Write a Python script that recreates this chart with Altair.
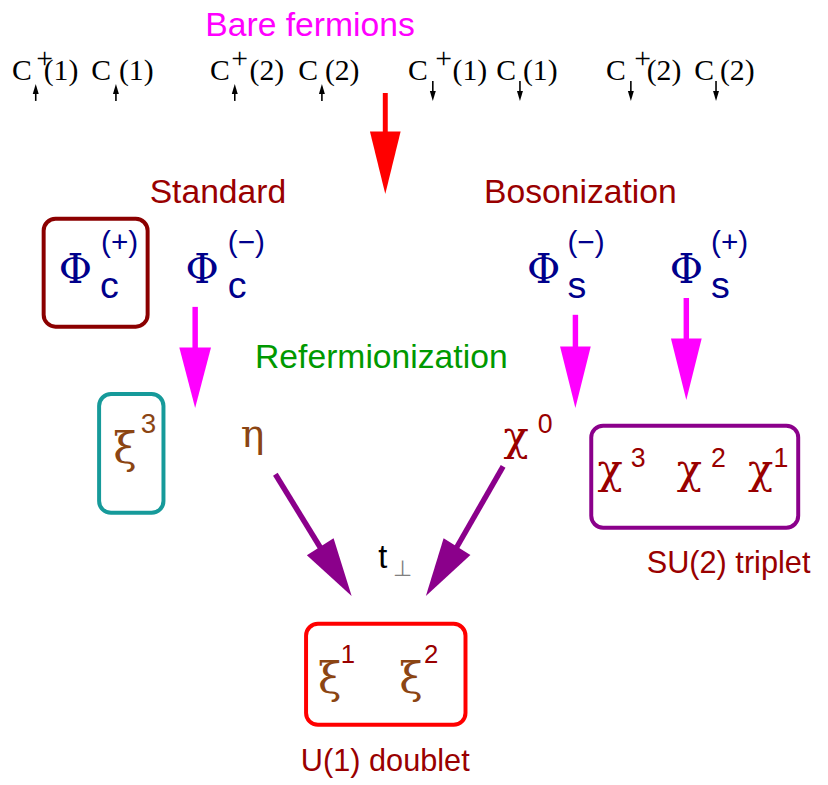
import altair as alt
import pandas as pd

# ---------------- data ----------------
# section labels (sans, centred)
label_text = ["Bare fermions", "Standard", "Bosonization", "Refermionization", "U(1) doublet"]
label_x = [313, 220, 586, 385, 389]
label_y = [22, 191, 191, 358, 766]
label_color = ["#ff00ff", "#990000", "#990000", "#009900", "#990000"]
label_size = [34, 34, 34, 34, 31]

# left aligned label
left_text = ["SU(2) triplet"]
left_x = [653]
left_y = [566]
left_color = ["#990000"]
left_size = [31]

# Phi symbols (serif)
phi_text = ["Φ", "Φ", "Φ", "Φ"]
phi_x = [76, 204, 549, 693]
phi_y = [282, 282, 282, 282]
phi_color = ["#00008b"] * 4
phi_size = [41, 41, 41, 41]

# other Greek symbols (serif)
greek_text = ["ξ", "η", "χ", "χ", "χ", "χ", "ξ", "ξ"]
greek_x = [126, 255, 521, 616, 696, 768, 333, 415]
greek_y = [464, 448, 451, 484, 484, 484, 696, 696]
greek_color = ["#8b4513", "#8b4513"] + ["#990000"] * 4 + ["#8b4513", "#8b4513"]
greek_size = [43, 40, 42, 42, 42, 42, 43, 43]

# sub / superscripts (sans)
script_text = ["(+)", "c", "(−)", "c", "(−)", "s", "(+)", "s",
               "3", "0", "3", "2", "1", "1", "2", "t", "⊥"]
script_x = [102, 101, 230, 230, 573, 573, 718, 718,
            142, 543, 637, 718, 781, 344, 428, 382, 397]
script_y = [251, 297, 251, 297, 251, 297, 251, 297,
            433, 433, 468, 468, 468, 666, 666, 570, 578]
script_color = ["#00008b"] * 8 + ["#8b4513", "#990000", "#990000", "#990000", "#990000",
                                  "#990000", "#990000", "#000000", "#808080"]
script_size = [30, 38, 30, 38, 30, 38, 30, 38,
               28, 27, 27, 27, 27, 26, 26, 33, 22]

# bare fermion operators (serif)
ferm_c_x = [12, 92, 212, 301, 412, 501, 612, 701]
ferm_arg = ["(1)", "(1)", "(2)", "(2)", "(1)", "(1)", "(2)", "(2)"]
ferm_arg_x = [44, 120, 252, 328, 457, 528, 653, 727]
ferm_dag_x = [45, 242, 448, 649]
ferm_spin_x = [36, 117, 237, 325, 437, 525, 637, 723]
ferm_spin = ["up"] * 4 + ["down"] * 4

# big arrows
arrow_x1 = [389, 197, 581, 693, 278, 508]
arrow_y1 = [90, 306, 314, 297, 475, 467]
arrow_x2 = [389, 197, 581, 693, 324, 461]
arrow_y2 = [131, 349, 348, 340, 550, 549]
head_tip_x = [389, 197, 581, 693, 355, 430]
head_tip_y = [192, 408, 408, 400, 598, 598]
head_len = [63, 61, 62, 62, 59, 59]
head_w = [31, 32, 31, 31, 32, 32]
head_angle = [0, 0, 0, 0, 327.5, 32.2]
arrow_color = ["#ff0000", "#ff00ff", "#ff00ff", "#ff00ff", "#8b008b", "#8b008b"]
arrow_width = [5, 5.5, 5.5, 5.5, 5.5, 5.5]

# boxes
box_x1 = [44, 100, 597, 309]
box_x2 = [149, 165, 806, 470]
box_y1 = [217, 394, 426, 626]
box_y2 = [326, 514, 529, 728]
box_color = ["#8b0000", "#169a9a", "#8b008b", "#ff0000"]

# ---------------- tables ----------------
def tri(L, W):
    return f"M0,0L{-W/2},{-L}L{W/2},{-L}Z"

shafts, heads = [], []
for i in range(len(arrow_x1)):
    shafts.append(dict(x=arrow_x1[i], y=arrow_y1[i], x2=arrow_x2[i], y2=arrow_y2[i],
                       color=arrow_color[i], w=arrow_width[i]))
    heads.append(dict(x=head_tip_x[i], y=head_tip_y[i], shape=tri(head_len[i], head_w[i]),
                      angle=head_angle[i], color=arrow_color[i]))
for xs, sp in zip(ferm_spin_x, ferm_spin):
    if sp == "up":
        shafts.append(dict(x=xs, y=98, x2=xs, y2=88, color="#000000", w=1.6))
        heads.append(dict(x=xs, y=81, shape=tri(10, 6), angle=180, color="#000000"))
    else:
        shafts.append(dict(x=xs, y=78, x2=xs, y2=90, color="#000000", w=1.6))
        heads.append(dict(x=xs, y=98, shape=tri(10, 6), angle=0, color="#000000"))
shaft_df = pd.DataFrame(shafts)
head_df = pd.DataFrame(heads)

box_df = pd.DataFrame(dict(x=box_x1, x2=box_x2, y=box_y1, y2=box_y2, color=box_color))

label_df = pd.DataFrame(dict(x=label_x, y=label_y, text=label_text, color=label_color, size=label_size))
left_df = pd.DataFrame(dict(x=left_x, y=left_y, text=left_text, color=left_color, size=left_size))
phi_df = pd.DataFrame(dict(x=phi_x, y=phi_y, text=phi_text, color=phi_color, size=phi_size))
greek_df = pd.DataFrame(dict(x=greek_x, y=greek_y, text=greek_text, color=greek_color, size=greek_size))
script_df = pd.DataFrame(dict(x=script_x, y=script_y, text=script_text, color=script_color, size=script_size))

ferm_rows = []
for cx in ferm_c_x:
    ferm_rows.append(dict(x=cx, y=77, text="C"))
for ax, a in zip(ferm_arg_x, ferm_arg):
    ferm_rows.append(dict(x=ax, y=77, text=a))
ferm_df = pd.DataFrame(ferm_rows)
dag_df = pd.DataFrame(dict(x=ferm_dag_x, y=[56] * len(ferm_dag_x), text=["+"] * len(ferm_dag_x)))

# ---------------- chart ----------------
XS = alt.Scale(domain=[8, 828])
YS = alt.Scale(domain=[8, 785], reverse=True)

def X(f="x"):
    return alt.X(f"{f}:Q", scale=XS, axis=None)

def Y(f="y"):
    return alt.Y(f"{f}:Q", scale=YS, axis=None)

boxes = alt.Chart(box_df).mark_rect(filled=False, strokeWidth=4, cornerRadius=12).encode(
    x=X(), x2="x2", y=Y(), y2="y2", color=alt.Color("color:N", scale=None))

shaft_layer = alt.Chart(shaft_df).mark_rule(strokeCap="butt").encode(
    x=X(), y=Y(), x2="x2", y2="y2",
    color=alt.Color("color:N", scale=None),
    strokeWidth=alt.StrokeWidth("w:Q", scale=None))

head_layer = alt.Chart(head_df).mark_point(filled=True, size=4, opacity=1, strokeWidth=0).encode(
    x=X(), y=Y(),
    shape=alt.Shape("shape:N", scale=None),
    angle=alt.Angle("angle:Q", scale=None),
    color=alt.Color("color:N", scale=None))

def text_layer(df, font, align, baseline, size=None, color=None):
    enc = dict(x=X(), y=Y(), text="text:N")
    if size is None:
        enc["size"] = alt.Size("size:Q", scale=None)
    if color is None:
        enc["color"] = alt.Color("color:N", scale=None)
    kw = dict(font=font, align=align, baseline=baseline)
    if size is not None:
        kw["fontSize"] = size
    if color is not None:
        kw["color"] = color
    return alt.Chart(df).mark_text(**kw).encode(**enc)

labels = text_layer(label_df, "Liberation Sans", "center", "middle")
left_labels = text_layer(left_df, "Liberation Sans", "left", "middle")
phis = text_layer(phi_df, "DejaVu Serif", "center", "alphabetic")
greek = text_layer(greek_df, "DejaVu Serif", "center", "alphabetic")
scripts = text_layer(script_df, "Liberation Sans", "left", "alphabetic")
ferm = text_layer(ferm_df, "Liberation Serif", "left", "alphabetic", size=30, color="#000000")
dag = text_layer(dag_df, "Liberation Serif", "center", "middle", size=30, color="#000000")

chart = alt.layer(
    boxes, shaft_layer, head_layer, labels, left_labels, phis, greek, scripts, ferm, dag
).properties(
    width=820, height=777, padding=0,
    autosize=alt.AutoSizeParams(type="none"),
    background="white",
).configure_view(stroke=None)

chart.save("out.html", embed_options={"renderer": "svg", "actions": False})
